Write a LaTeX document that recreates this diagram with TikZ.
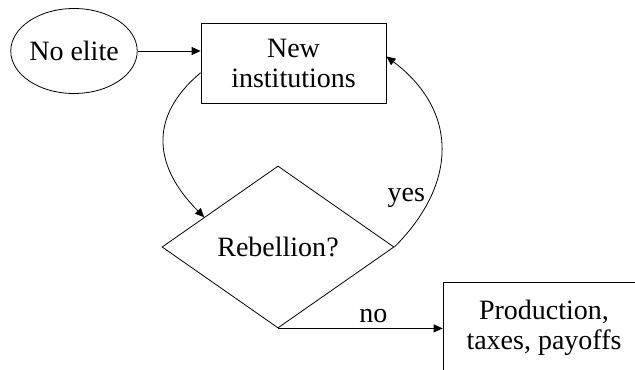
\documentclass[tikz,border=0pt]{standalone}
\usepackage{fontspec}
\setmainfont{Liberation Serif}
\usetikzlibrary{shapes.geometric,arrows.meta}

\begin{document}
\begin{tikzpicture}[x=0.5pt,y=0.5pt,
  every node/.style={font=\rmfamily\fontsize{14}{15}\selectfont},
  box/.style={draw,rectangle,align=center,inner sep=0pt},
  arr/.style={-{Triangle[length=4.5pt,width=4pt]}},
  lbl/.style={inner sep=2.4pt}]
  \useasboundingbox (0,0) rectangle (635,369);
  \node[draw,ellipse,inner sep=0pt,minimum width=62pt,minimum height=42.5pt] (elite) at (74,318) {No elite};
  \node[box,minimum width=92.5pt,minimum height=40pt] (inst) at (293.5,306) {New\\institutions};
  \node[draw,diamond,aspect=1.43,inner sep=0pt,minimum width=116pt,minimum height=81pt] (reb) at (278,122) {Rebellion?};
  \node[box,minimum width=101pt,minimum height=46pt] (prod) at (544,41) {Production,\\taxes, payoffs};
  \draw[arr] (elite.east) -- (elite.east -| inst.west);
  \draw[arr] (inst.186) .. controls +(220:70) and +(135:70) .. (reb.158);
  \draw[arr] (reb.east) .. controls +(45:90) and +(-37:90) .. (inst.4)
    node[pos=0.25,left,lbl] {yes};
  \draw[arr] (reb.south) -- (reb.south -| prod.west)
    node[pos=0.58,above,lbl] {no};
\end{tikzpicture}
\end{document}
